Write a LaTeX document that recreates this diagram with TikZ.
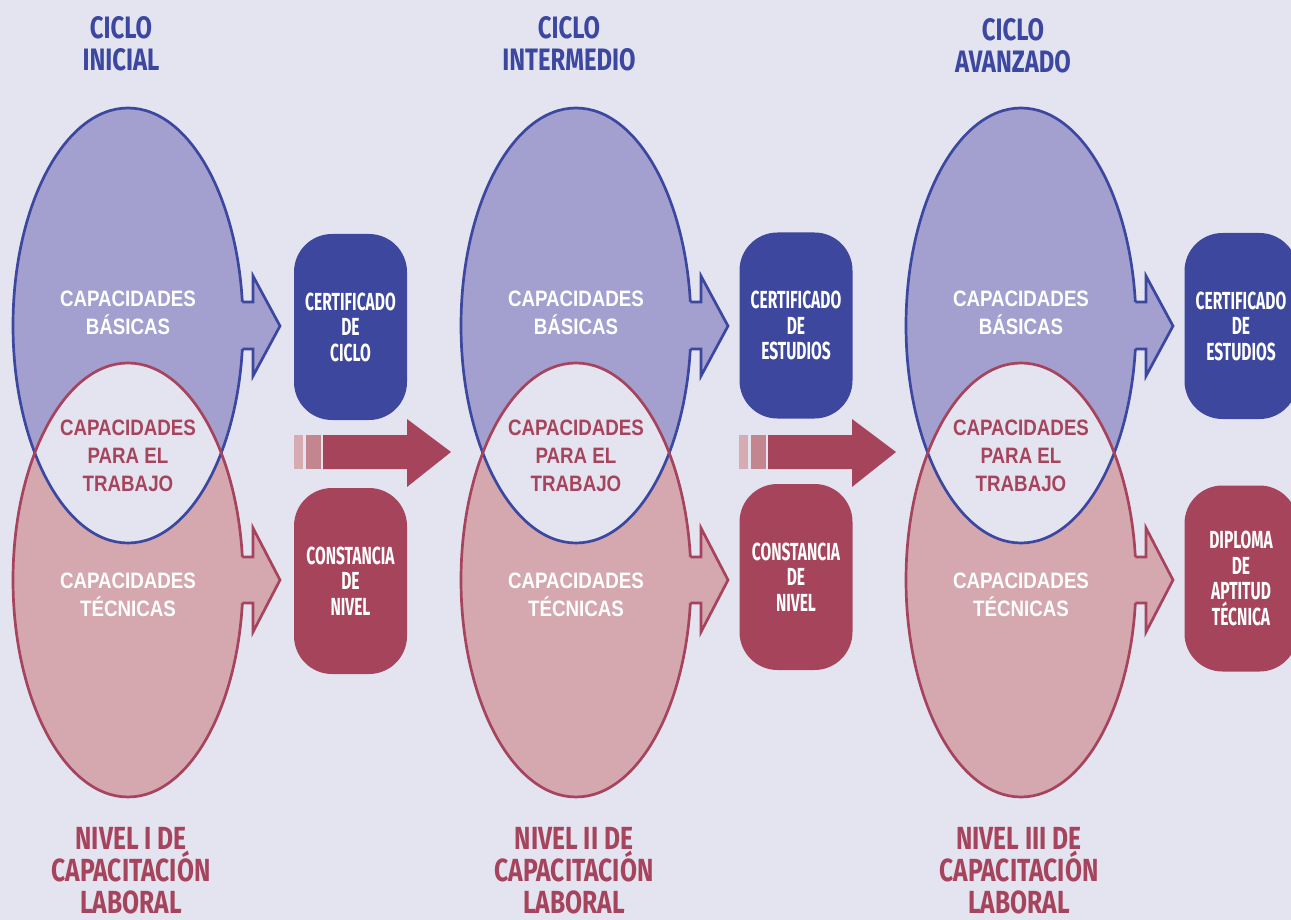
\documentclass[tikz,border=0pt]{standalone}
\usepackage{fontspec}
\setmainfont{Liberation Sans}
\newfontfamily\labelfont[FakeStretch=0.84]{Liberation Sans}
\newfontfamily\titlefont[FakeStretch=0.77]{Fira Sans}
\newfontfamily\boxfont[FakeStretch=0.63]{Fira Sans}

\definecolor{bgcol}{HTML}{E4E4F1}
\definecolor{bluefill}{HTML}{A3A0CF}
\definecolor{blueline}{HTML}{3C47A0}
\definecolor{bluebox}{HTML}{3C479D}
\definecolor{pinkfill}{HTML}{D4A8AE}
\definecolor{pinkline}{HTML}{A7445D}
\definecolor{pinkbox}{HTML}{A6445C}
\definecolor{stripelight}{HTML}{D6ABB1}
\definecolor{stripemid}{HTML}{C4868E}

\begin{document}
\begin{tikzpicture}[x=1pt,y=-1pt,
  bluestroke/.style={draw=blueline,line width=2.7pt},
  pinkstroke/.style={draw=pinkline,line width=2.7pt},
  captext/.style={font=\labelfont\bfseries\fontsize{22.3}{28}\selectfont,
    align=center,inner sep=0pt},
  headtext/.style={font=\titlefont\bfseries\fontsize{31}{31.5}\selectfont,
    text=blueline,align=center,inner sep=0pt},
  foottext/.style={font=\titlefont\bfseries\fontsize{32}{32}\selectfont,
    text=pinkline,align=center,inner sep=0pt},
  award/.style={rounded corners=38pt,minimum width=113pt,minimum height=186pt,
    inner sep=0pt,text=white,align=center,
    font=\boxfont\bfseries\fontsize{24.7}{25.5}\selectfont},
  certbox/.style={award,fill=bluebox},
  levelbox/.style={award,fill=pinkbox}]

\useasboundingbox (0,0) rectangle (1291,920);
\fill[bgcol] (0,0) rectangle (1291,920);
\clip (0,0) rectangle (1291,920);

% two overlapping ellipses per cycle, each with an arrow on its right side
\foreach \cx in {128,576,1021} {
  \fill[bluefill] (\cx,325.5) ellipse [x radius=115pt, y radius=217.5pt];
  \fill[bluefill] (\cx+100,302) -- (\cx+125,302) -- (\cx+125,276) -- (\cx+152,326)
    -- (\cx+125,376) -- (\cx+125,349) -- (\cx+100,349) -- cycle;
  \fill[pinkfill] (\cx,580) ellipse [x radius=115pt, y radius=217pt];
  \fill[pinkfill] (\cx+100,557) -- (\cx+125,557) -- (\cx+125,528) -- (\cx+152,580)
    -- (\cx+125,632) -- (\cx+125,603) -- (\cx+100,603) -- cycle;
  % common area of both ellipses
  \begin{scope}
    \clip (\cx,325.5) ellipse [x radius=115pt, y radius=217.5pt];
    \fill[bgcol] (\cx,580) ellipse [x radius=115pt, y radius=217pt];
  \end{scope}
  \draw[bluestroke] (\cx,325.5) ellipse [x radius=115pt, y radius=217.5pt];
  \draw[pinkstroke] (\cx,580) ellipse [x radius=115pt, y radius=217pt];
  % arrow outlines, merged into the ellipse outline
  \fill[bluefill] (\cx+105,302) rectangle (\cx+124,349);
  \draw[bluestroke,line join=miter] (\cx+114.3,302) -- (\cx+125,302) -- (\cx+125,276)
    -- (\cx+152,326) -- (\cx+125,376) -- (\cx+125,349) -- (\cx+114.3,349);
  \fill[pinkfill] (\cx+105,557) rectangle (\cx+124,603);
  \draw[pinkstroke,line join=miter] (\cx+114.3,557) -- (\cx+125,557) -- (\cx+125,528)
    -- (\cx+152,580) -- (\cx+125,632) -- (\cx+125,603) -- (\cx+114.3,603);
}

% arrows from one cycle to the next
\foreach \ax in {0,445} {
  \fill[stripelight] (294+\ax,435) rectangle (303+\ax,469);
  \fill[stripemid] (306+\ax,435) rectangle (321+\ax,469);
  \fill[pinkbox] (323+\ax,435) -- (407+\ax,435) -- (407+\ax,419) -- (451+\ax,452)
    -- (407+\ax,487) -- (407+\ax,469) -- (323+\ax,469) -- cycle;
}

% cycle titles
\node[headtext] (title1) at (121,44) {CICLO\\INICIAL};
\node[headtext] (title2) at (569,44) {CICLO\\INTERMEDIO};
\node[headtext] (title3) at (1013,46) {CICLO\\AVANZADO};

% capacities inside the ellipses
\node[captext,text=white] (bas1) at (128,313) {CAPACIDADES\\BÁSICAS};
\node[captext,text=white] (bas2) at (576,313) {CAPACIDADES\\BÁSICAS};
\node[captext,text=white] (bas3) at (1021,313) {CAPACIDADES\\BÁSICAS};
\node[captext,text=pinkline] (trab1) at (128,456) {CAPACIDADES\\PARA EL\\TRABAJO};
\node[captext,text=pinkline] (trab2) at (576,456) {CAPACIDADES\\PARA EL\\TRABAJO};
\node[captext,text=pinkline] (trab3) at (1021,456) {CAPACIDADES\\PARA EL\\TRABAJO};
\node[captext,text=white] (tec1) at (128,595) {CAPACIDADES\\TÉCNICAS};
\node[captext,text=white] (tec2) at (576,595) {CAPACIDADES\\TÉCNICAS};
\node[captext,text=white] (tec3) at (1021,595) {CAPACIDADES\\TÉCNICAS};

% certificates
\node[certbox] (cert1) at (350.5,327) {CERTIFICADO\\DE\\CICLO};
\node[certbox] (cert2) at (796,325.5) {CERTIFICADO\\DE\\ESTUDIOS};
\node[certbox] (cert3) at (1241,326) {CERTIFICADO\\DE\\ESTUDIOS};
\node[levelbox] (lvl1) at (350.5,581) {CONSTANCIA\\DE\\NIVEL};
\node[levelbox] (lvl2) at (796,577) {CONSTANCIA\\DE\\NIVEL};
\node[levelbox] (lvl3) at (1241,578.5) {DIPLOMA\\DE\\APTITUD\\TÉCNICA};

% levels
\node[foottext] (nivel1) at (131,871) {NIVEL I DE\\CAPACITACIÓN\\LABORAL};
\node[foottext] (nivel2) at (574,871) {NIVEL II DE\\CAPACITACIÓN\\LABORAL};
\node[foottext] (nivel3) at (1019,871) {NIVEL III DE\\CAPACITACIÓN\\LABORAL};
\end{tikzpicture}
\end{document}
